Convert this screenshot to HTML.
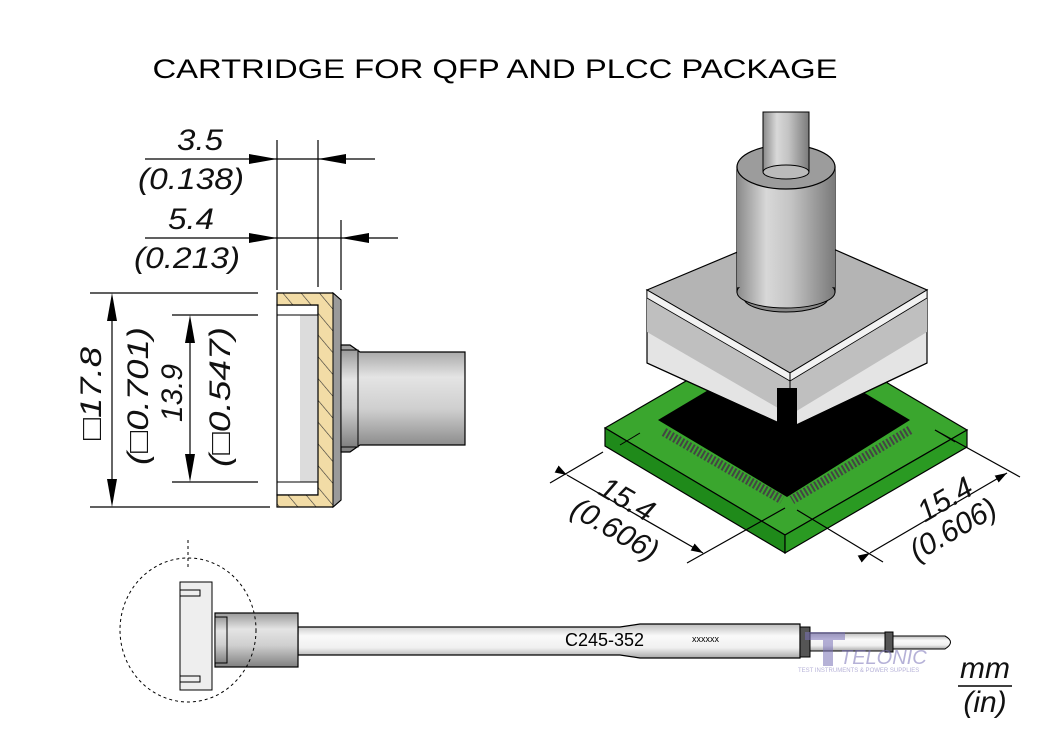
<!DOCTYPE html>
<html><head><meta charset="utf-8"><style>
html,body{margin:0;padding:0;background:#fff;}
svg{display:block;}
text{font-family:"Liberation Sans",Arial,sans-serif;}
.it{font-style:italic;font-size:30px;fill:#111;}
</style></head><body>
<svg width="1050" height="742" viewBox="0 0 1050 742" xmlns="http://www.w3.org/2000/svg">
<defs>
<linearGradient id="cylH" x1="0" x2="1" y1="0" y2="0">
<stop offset="0" stop-color="#8a8a8a"/><stop offset="0.3" stop-color="#d8d8d8"/><stop offset="0.55" stop-color="#c4c4c4"/><stop offset="1" stop-color="#7a7a7a"/></linearGradient>
<linearGradient id="cylV" x1="0" x2="0" y1="0" y2="1">
<stop offset="0" stop-color="#9a9a9a"/><stop offset="0.3" stop-color="#e4e4e4"/><stop offset="0.6" stop-color="#cfcfcf"/><stop offset="1" stop-color="#808080"/></linearGradient>
<linearGradient id="shaftV" x1="0" x2="0" y1="0" y2="1">
<stop offset="0" stop-color="#bdbdbd"/><stop offset="0.35" stop-color="#fafafa"/><stop offset="0.7" stop-color="#f0f0f0"/><stop offset="1" stop-color="#a8a8a8"/></linearGradient>
<pattern id="hatch" width="14" height="14" patternUnits="userSpaceOnUse" patternTransform="rotate(-40)">
<rect width="14" height="14" fill="#f2dca6"/><line x1="0" y1="0" x2="0" y2="14" stroke="#333" stroke-width="1.2"/></pattern>
<marker id="ar" markerWidth="12" markerHeight="8" refX="12" refY="4" orient="auto" markerUnits="userSpaceOnUse"><path d="M0,0 L12,4 L0,8z" fill="#000"/></marker>
</defs>

<text x="495" y="78" text-anchor="middle" font-size="27" textLength="685" lengthAdjust="spacingAndGlyphs" fill="#000">CARTRIDGE FOR QFP AND PLCC PACKAGE</text>

<!-- LEFT VIEW -->
<g stroke="#000" stroke-width="1.2" fill="none">
<line x1="277" y1="140" x2="277" y2="290"/>
<line x1="318" y1="140" x2="318" y2="287"/>
<line x1="341" y1="220" x2="341" y2="290"/>
<line x1="145" y1="159" x2="375" y2="159"/>
<line x1="145" y1="238" x2="398" y2="238"/>
<line x1="90" y1="293" x2="258" y2="293"/>
<line x1="90" y1="507" x2="270" y2="507"/>
<line x1="172" y1="315" x2="258" y2="315"/>
<line x1="172" y1="482" x2="258" y2="482"/>
<line x1="112" y1="300" x2="112" y2="500"/>
<line x1="190" y1="322" x2="190" y2="475"/>
</g>
<g fill="#000">
<path d="M277,159 l-28,-5 v10z"/><path d="M318,159 l28,-5 v10z"/>
<path d="M277,238 l-28,-5 v10z"/><path d="M341,238 l28,-5 v10z"/>
<path d="M112,293 l-5,28 h10z"/><path d="M112,507 l-5,-28 h10z"/>
<path d="M190,315 l-5,28 h10z"/><path d="M190,482 l-5,-28 h10z"/>
</g>
<text class="it" x="177" y="150" textLength="46" lengthAdjust="spacingAndGlyphs">3.5</text>
<text class="it" x="138" y="189" textLength="106" lengthAdjust="spacingAndGlyphs">(0.138)</text>
<text class="it" x="168" y="229" textLength="46" lengthAdjust="spacingAndGlyphs">5.4</text>
<text class="it" x="134" y="268" textLength="106" lengthAdjust="spacingAndGlyphs">(0.213)</text>
<text class="it" transform="translate(101,440) rotate(-90)" textLength="93" lengthAdjust="spacingAndGlyphs">□17.8</text>
<text class="it" transform="translate(148,465) rotate(-90)" textLength="138" lengthAdjust="spacingAndGlyphs">(□0.701)</text>
<text class="it" transform="translate(182,422) rotate(-90)" textLength="58" lengthAdjust="spacingAndGlyphs">13.9</text>
<text class="it" transform="translate(230,467) rotate(-90)" textLength="140" lengthAdjust="spacingAndGlyphs">(□0.547)</text>

<!-- cartridge section -->
<rect x="277" y="305" width="41" height="190" fill="#fff" stroke="#000" stroke-width="1.2"/>
<rect x="300" y="315" width="18" height="167" fill="#dcdcdc"/>
<rect x="277" y="315" width="41" height="167" fill="none" stroke="#000" stroke-width="1"/>
<path d="M277,293 H333 L341,300 V500 L333,507 H277 V495 H318 V305 H277z" fill="url(#hatch)" stroke="#000" stroke-width="1.2"/>
<path d="M333,293 L341,300 V500 L333,507z" fill="#9a9a9a" stroke="#000"/>
<path d="M341,345 H350 L360,352 H465 V445 H360 L350,452 H341z" fill="url(#cylV)" stroke="#000" stroke-width="1.2"/>
<rect x="341" y="350" width="17" height="97" fill="url(#cylV)" stroke="#000"/>

<!-- ISO VIEW -->
<path d="M605,428 L786,323 L967,430 L785,535z" fill="#3aa62e" stroke="#000" stroke-width="1.2"/>
<path d="M605,428 L785,535 L785,553 L605,446z" fill="#1f8a1a" stroke="#000" stroke-width="1.2"/>
<path d="M785,535 L967,430 L967,447 L785,553z" fill="#2a9a22" stroke="#000" stroke-width="1.2"/>
<line x1="620" y1="445" x2="640" y2="433" stroke="#000"/>
<line x1="935" y1="430" x2="955" y2="442" stroke="#000"/>
<!-- chip -->
<path d="M658,420 L784,345 L910,420 L787,497z" fill="#000"/>
<path d="M664,432 L782,500 M910,430 L792,500" stroke="#444" stroke-width="9" stroke-dasharray="2,2"/>
<!-- block -->
<path d="M647,290 L790,373 L790,428 L647,363z" fill="#e4e4e4" stroke="#000" stroke-width="1.2"/>
<path d="M790,373 L927,290 L927,363 L790,428z" fill="#e4e4e4" stroke="#000" stroke-width="1.2"/>
<path d="M647,298 L790,381 L790,415 L647,332z" fill="#bfbfbf"/>
<path d="M790,381 L927,298 L927,332 L790,415z" fill="#bfbfbf"/>
<path d="M647,290 L790,230 L927,290 L790,373z" fill="#b4b4b4" stroke="#000" stroke-width="1.2"/>
<path d="M647,290 L790,373 L927,290 L927,298 L790,381 L647,298z" fill="#f2f2f2" stroke="#000" stroke-width="0.8"/>
<path d="M647,363 L790,428 L927,363" fill="none" stroke="#000" stroke-width="1.2"/>
<rect x="777" y="388" width="20" height="40" fill="#000"/>
<line x1="790" y1="373" x2="790" y2="388" stroke="#000"/>
<!-- cylinder -->
<ellipse cx="786" cy="298" rx="42" ry="14" fill="#888" stroke="#000"/>
<rect x="737" y="167" width="98" height="125" fill="url(#cylH)" stroke="#000" stroke-width="1.2"/>
<ellipse cx="786" cy="292" rx="49" ry="16" fill="url(#cylH)" stroke="#000"/>
<rect x="737" y="167" width="98" height="120" fill="url(#cylH)"/>
<ellipse cx="786" cy="167" rx="49" ry="22" fill="#9c9c9c" stroke="#000" stroke-width="1.2"/>
<rect x="763" y="112" width="46" height="60" fill="url(#cylH)" stroke="#000"/>
<ellipse cx="786" cy="172" rx="23" ry="7" fill="#bbb" stroke="#000"/>
<!-- iso dims -->
<g stroke="#000" stroke-width="1.2">
<line x1="550" y1="483" x2="603" y2="452"/><line x1="687" y1="563" x2="785" y2="508"/>
<line x1="567" y1="475" x2="703" y2="553" marker-end="url(#ar)" marker-start="url(#ar)"/>
<line x1="797" y1="510" x2="883" y2="562"/><line x1="935" y1="430" x2="1020" y2="477"/>
<line x1="870" y1="553" x2="1007" y2="473" marker-end="url(#ar)" marker-start="url(#ar)"/>
</g>
<text class="it" transform="translate(622,508) rotate(30)" text-anchor="middle">15.4</text>
<text class="it" transform="translate(610,538) rotate(30)" text-anchor="middle">(0.606)</text>
<text class="it" transform="translate(950,508) rotate(-30)" text-anchor="middle">15.4</text>
<text class="it" transform="translate(958,538) rotate(-30)" text-anchor="middle">(0.606)</text>

<!-- BOTTOM TIP -->
<line x1="188" y1="540" x2="188" y2="568" stroke="#000" stroke-dasharray="3,3"/>
<rect x="180" y="582" width="32" height="108" fill="#eee" stroke="#000"/>
<path d="M180,590 h20 v6 h-20 M180,676 h20 v6 h-20" fill="none" stroke="#000"/>
<path d="M298,627 H620 L640,624 H800 V658 H640 L620,655 H298z" fill="url(#shaftV)" stroke="#000" stroke-width="1.2"/>
<rect x="215" y="613" width="83" height="54" fill="url(#cylV)" stroke="#000" stroke-width="1.2"/>
<rect x="215" y="617" width="12" height="46" fill="url(#cylV)" stroke="#000"/>
<ellipse cx="188" cy="630" rx="68" ry="72" fill="none" stroke="#000" stroke-dasharray="3,3"/>
<rect x="800" y="627" width="10" height="30" fill="#555" stroke="#000"/>
<rect x="810" y="633" width="75" height="18" fill="url(#shaftV)" stroke="#000"/>
<rect x="885" y="632" width="8" height="20" fill="#555" stroke="#000"/>
<path d="M893,636 H945 Q956,642 945,649 H893z" fill="url(#shaftV)" stroke="#000"/>
<text x="565" y="646" font-size="18" fill="#000">C245-352</text>
<text x="692" y="642" font-size="9" fill="#000">xxxxxx</text>
<g opacity="0.55" fill="#7a72b8">
<path d="M805,632 h40 v8 h-12 v26 h-10 v-26 h-18z"/>
<text x="840" y="664" font-size="20" font-style="italic">TELONIC</text>
<text x="798" y="672" font-size="6">TEST INSTRUMENTS &amp; POWER SUPPLIES</text>
</g>
<text class="it" x="985" y="678" text-anchor="middle">mm</text>
<line x1="958" y1="686" x2="1012" y2="686" stroke="#000" stroke-width="1.5"/>
<text class="it" x="985" y="712" text-anchor="middle">(in)</text>
</svg>
</body></html>
